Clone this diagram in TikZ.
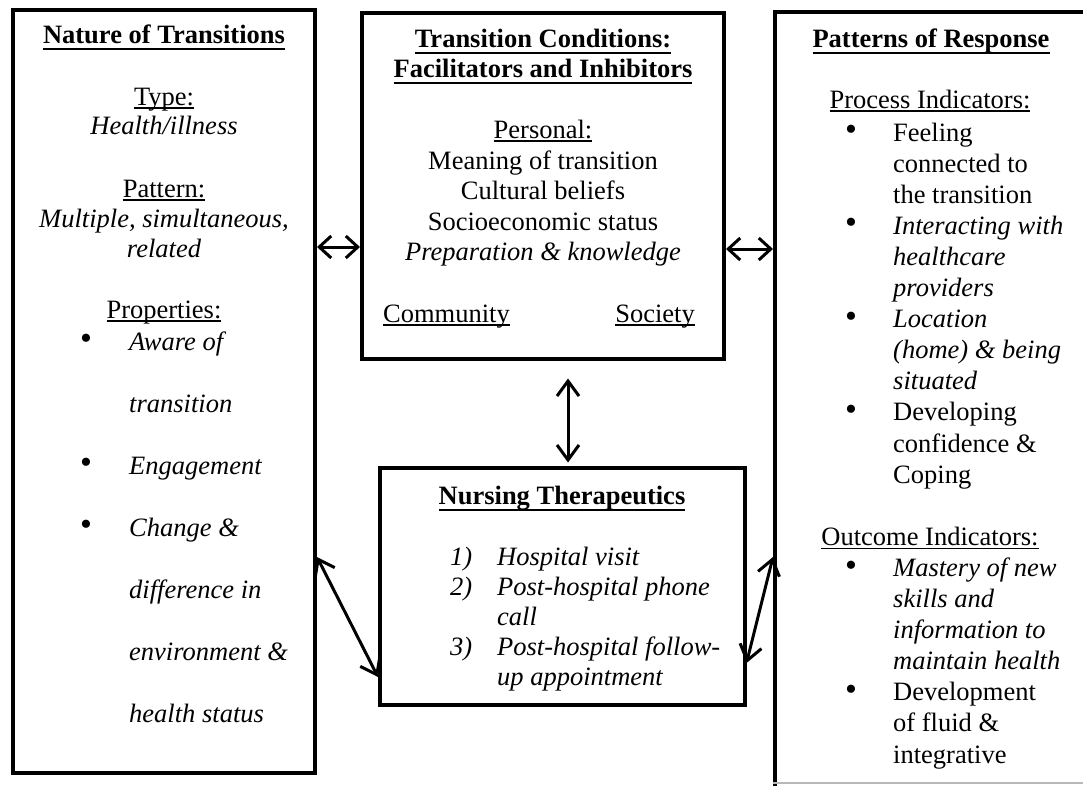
\documentclass[tikz,border=0pt]{standalone}
\usepackage{fontspec}
\setmainfont{Liberation Serif}
\usetikzlibrary{arrows.meta}
\newcommand\myul[3]{\leavevmode\setbox0=\hbox{#3}\rlap{\rule[-#1]{\wd0}{#2}}\box0}
\newcommand\myulr[1]{\myul{4pt}{1.6pt}{#1}}
\newcommand\myulb[1]{\myul{7pt}{2.5pt}{\bfseries #1}}
\begin{document}
\begin{tikzpicture}[x=1pt,y=-1pt,
 box/.style={draw, line width=4pt, inner sep=0pt},
 txt/.style={inner sep=0pt, anchor=base, font=\fontsize{26.5}{30}\selectfont},
 txtw/.style={txt, anchor=base west},
 txte/.style={txt, anchor=base east},
 bul/.style={inner sep=0pt, anchor=center, font=\fontsize{34}{34}\selectfont},
 dblh/.style={line width=3pt, {Straight Barb[length=12pt,width=22pt]}-{Straight Barb[length=12pt,width=22pt]}},
 dbld/.style={line width=3pt, {Straight Barb[length=15pt,width=22pt]}-{Straight Barb[length=15pt,width=22pt]}}
]
\useasboundingbox (0,0) rectangle (1083,785);

% boxes
\node[box, minimum width=302.5pt, minimum height=763.5pt] (L) at (163.75,391.25) {};
\node[box, minimum width=362pt, minimum height=346pt] (M) at (543,185.5) {};
\node[box, minimum width=364.5pt, minimum height=237pt] (N) at (562.25,586) {};
\node[box, anchor=north west, minimum width=330pt, minimum height=800pt] (R) at (773,9.5) {};
\coordinate (rb) at (0,783);
\draw[gray!55, line width=1.2pt] (R.west |- rb) -- (R.east |- rb);

% left box
\node[txt] (Lt1) at (164,43) {\myulb{Nature of Transitions}};
\node[txt] (Lt2) at (164,105) {\myulr{Type:}};
\node[txt] (Lt3) at (164,134) {\itshape Health/illness};
\node[txt] (Lt4) at (164,197) {\myulr{Pattern:}};
\node[txt] (Lt5) at (164,227) {\itshape Multiple, simultaneous,};
\node[txt] (Lt6) at (164,257) {\itshape related};
\node[txt] (Lt7) at (164,318) {\myulr{Properties:}};
\foreach \t [count=\i from 0] in {Aware of, transition, Engagement, Change \&, difference in, environment \&, health status}
  \node[txtw] (Lp\i) at (129, 350+62*\i) {\itshape\t};
\foreach \i in {0,2,3}
  \node[bul] (Lb\i) at (86, 342+62*\i) {\textbullet};

% middle box
\node[txt] (Mt1) at (543,47) {\myulb{Transition Conditions:}};
\node[txt] (Mt2) at (543,77) {\myulb{Facilitators and Inhibitors}};
\node[txt] (Mt3) at (543,138) {\myulr{Personal:}};
\node[txt] (Mt4) at (543,169) {Meaning of transition};
\node[txt] (Mt5) at (543,199) {Cultural beliefs};
\node[txt] (Mt6) at (543,230) {Socioeconomic status};
\node[txt] (Mt7) at (543,260) {\itshape Preparation \& knowledge};
\node[txtw] (Mt8) at (383,322) {\myulr{Community}};
\node[txte] (Mt9) at (695,322) {\myulr{Society}};

% nursing box
\node[txt] (Nt1) at (562,504) {\myulb{Nursing Therapeutics}};
\node[txtw] (Nn1) at (450,565) {\itshape 1)};
\node[txtw] (Nn2) at (450,595) {\itshape 2)};
\node[txtw] (Nn3) at (450,655) {\itshape 3)};
\node[txtw] (Nl1) at (497,565) {\itshape Hospital visit};
\node[txtw] (Nl2) at (497,595) {\itshape Post-hospital phone};
\node[txtw] (Nl3) at (497,625) {\itshape call};
\node[txtw] (Nl4) at (497,655) {\itshape Post-hospital follow-};
\node[txtw] (Nl5) at (497,685) {\itshape up appointment};

% right box
\node[txt] (Rt1) at (931,47) {\myulb{Patterns of Response}};
\node[txt] (Rt2) at (930,108) {\myulr{Process Indicators:}};
\foreach \t [count=\i from 0] in {Feeling, connected to, the transition, \textit{Interacting with}, \textit{healthcare}, \textit{providers}, \textit{Location}, \textit{(home) \& being}, \textit{situated}, Developing, confidence \&, Coping}
  \node[txtw] (Rp\i) at (893, 141+31.1*\i) {\t};
\node[txt] (Rt3) at (930,545.3) {\myulr{Outcome Indicators:}};
\foreach \t [count=\i from 14] in {\textit{Mastery of new}, \textit{skills and}, \textit{information to}, \textit{maintain health}, Development, of fluid \&, integrative}
  \node[txtw] (Rq\i) at (893, 141+31.1*\i) {\t};
\foreach \i in {0,3,6,9,14,18}
  \node[bul] (Rb\i) at (851, 133+31.1*\i) {\textbullet};

% connectors
\coordinate (hl) at (0,247);
\coordinate (hr) at (0,249);
\coordinate (vx) at (568,0);
\coordinate (dla) at (0,557);
\coordinate (dlb) at (0,677);
\coordinate (dra) at (0,663);
\coordinate (drb) at (0,557);
\draw[dblh] (L.east |- hl) -- (M.west |- hl);
\draw[dblh] (M.east |- hr) -- (R.west |- hr);
\draw[dbld, shorten <=18pt, shorten >=3pt] (M.south -| vx) -- (N.north -| vx);
\draw[dbld] (L.east |- dla) -- (N.west |- dlb);
\draw[dbld] (N.east |- dra) -- (R.west |- drb);
\end{tikzpicture}
\end{document}
